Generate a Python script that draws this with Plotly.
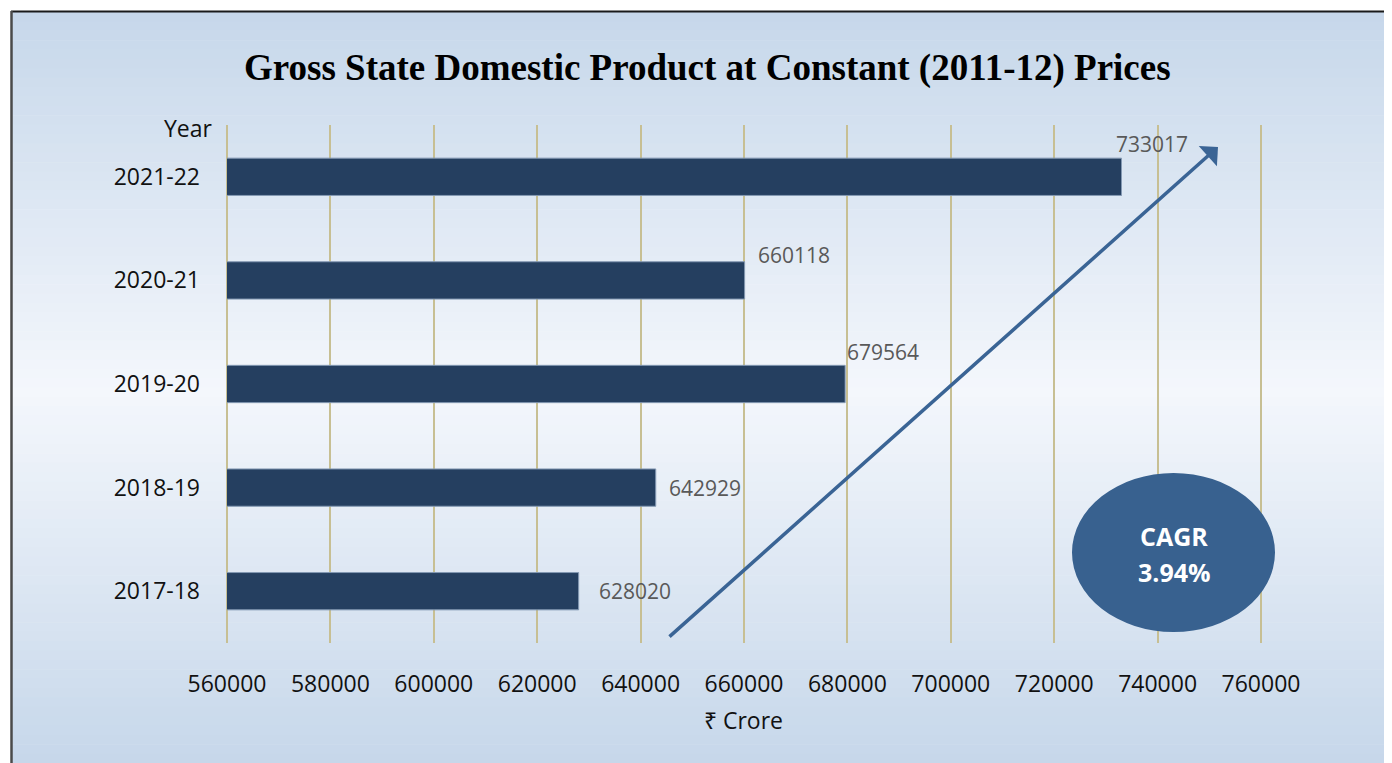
import plotly.graph_objects as go

# ---- data ----
years = ["2017-18", "2018-19", "2019-20", "2020-21", "2021-22"]
gsdp = [628020, 642929, 679564, 660118, 733017]
x_ticks = [560000, 580000, 600000, 620000, 640000, 660000, 680000, 700000, 720000, 740000, 760000]
cagr_text = "3.94%"

# ---- layout geometry (screen pixels; page body has an 8px margin) ----
OFF = 8
W, H = 1392 - OFF, 763 - OFF
L, R, T, B = 227, 1261, 125, 643
pw, ph = R - L, B - T

def px(x):
    return (x - L) / pw

def py(y):
    return (B - y) / ph

fig = go.Figure()
fig.add_trace(go.Bar(
    y=years, x=gsdp, orientation="h",
    marker=dict(color="#253f60", line=dict(color="#8499b3", width=1)),
    hoverinfo="x+y", showlegend=False,
))

shapes = []
# background vertical gradient
top_c = (198, 215, 234)
mid_c = (244, 247, 252)
bot_c = (198, 215, 234)
y_start, y_mid, y_end = 12, 390, 763
n = 80
for i in range(n):
    ya = y_start + (y_end - y_start) * i / n
    yb = y_start + (y_end - y_start) * (i + 1) / n + 0.6
    yc = (ya + yb) / 2
    if yc <= y_mid:
        t = (yc - y_start) / (y_mid - y_start)
        c = tuple(round(top_c[k] + (mid_c[k] - top_c[k]) * t) for k in range(3))
    else:
        t = (yc - y_mid) / (y_end - y_mid)
        c = tuple(round(mid_c[k] + (bot_c[k] - mid_c[k]) * t) for k in range(3))
    shapes.append(dict(type="rect", xref="paper", yref="paper", layer="below",
                       x0=px(12), x1=px(1400), y0=py(yb), y1=py(ya),
                       fillcolor="rgb(%d,%d,%d)" % c, line=dict(width=0)))
# edge gridlines (plotly clips the ones at the range ends)
for xp in (0, 1):
    shapes.append(dict(type="line", xref="paper", yref="paper", layer="below",
                       x0=xp, x1=xp, y0=0, y1=1,
                       line=dict(color="#c7bf93", width=2)))
# frame
shapes.append(dict(type="line", xref="paper", yref="paper", layer="above",
                   x0=px(11), x1=px(1400), y0=py(11.5), y1=py(11.5),
                   line=dict(color="#1a1a1a", width=2)))
shapes.append(dict(type="line", xref="paper", yref="paper", layer="above",
                   x0=px(11.5), x1=px(11.5), y0=py(11), y1=py(770),
                   line=dict(color="#4a4a4a", width=2.5)))
# CAGR ellipse
shapes.append(dict(type="circle", xref="paper", yref="paper", layer="above",
                   x0=px(1072), x1=px(1275), y0=py(632), y1=py(473),
                   fillcolor="#38618f", line=dict(width=0)))

annotations = []
label_offsets = [(18, 0), (11, 0), (0, 32), (11, 25), (-8, 33)]
for yr, v, (dx, dy) in zip(years, gsdp, label_offsets):
    annotations.append(dict(x=v, y=yr, xref="x", yref="y", text=str(v),
                            showarrow=False, xanchor="left", yanchor="middle",
                            xshift=dx, yshift=dy,
                            font=dict(family="Open Sans", size=21, color="#595959")))
# arrow
annotations.append(dict(x=px(1218), y=py(147), xref="paper", yref="paper",
                        ax=668 - 1218, ay=638 - 147, text="", showarrow=True,
                        arrowhead=1, arrowsize=1.3, arrowwidth=3.5,
                        arrowcolor="#3a6495", standoff=0, startstandoff=0))
# CAGR text
annotations.append(dict(x=px(1174), y=py(536), xref="paper", yref="paper",
                        text="<b>CAGR</b>", showarrow=False,
                        xanchor="center", yanchor="middle",
                        font=dict(family="Open Sans", size=25, color="white")))
annotations.append(dict(x=px(1174), y=py(572), xref="paper", yref="paper",
                        text="<b>" + cagr_text + "</b>", showarrow=False,
                        xanchor="center", yanchor="middle",
                        font=dict(family="Open Sans", size=25, color="white")))
# Year label
annotations.append(dict(x=px(215), y=py(128), xref="paper", yref="paper",
                        text="Year", showarrow=False, xanchor="right", yanchor="middle",
                        font=dict(family="Open Sans", size=23, color="#111111")))
# x axis title
annotations.append(dict(x=px(743), y=py(720), xref="paper", yref="paper",
                        text="₹ Crore", showarrow=False, xanchor="center", yanchor="middle",
                        font=dict(family="Open Sans", size=23, color="#111111")))
# title
annotations.append(dict(x=px(707), y=py(68), xref="paper", yref="paper",
                        text="<b>Gross State Domestic Product at Constant (2011-12) Prices</b>",
                        showarrow=False, xanchor="center", yanchor="middle",
                        font=dict(family="Liberation Serif", size=37, color="#000000")))

fig.update_layout(
    width=W, height=H,
    margin=dict(l=L - OFF, r=1392 - R, t=T - OFF, b=763 - B, pad=0),
    paper_bgcolor="white", plot_bgcolor="rgba(0,0,0,0)",
    bargap=0.64,
    shapes=shapes, annotations=annotations,
    xaxis=dict(range=[x_ticks[0], x_ticks[-1]], tickvals=x_ticks,
               ticktext=[str(v) for v in x_ticks],
               showgrid=True, gridcolor="#c7bf93", gridwidth=2,
               zeroline=False, showline=False, ticks="",
               ticklabelstandoff=25,
               tickfont=dict(family="Open Sans", size=23, color="#111111")),
    yaxis=dict(type="category", categoryorder="array", categoryarray=years,
               showgrid=False, zeroline=False, showline=False, ticks="",
               ticklabelstandoff=26,
               tickfont=dict(family="Open Sans", size=23, color="#111111")),
)

fig.write_html("out.html")
